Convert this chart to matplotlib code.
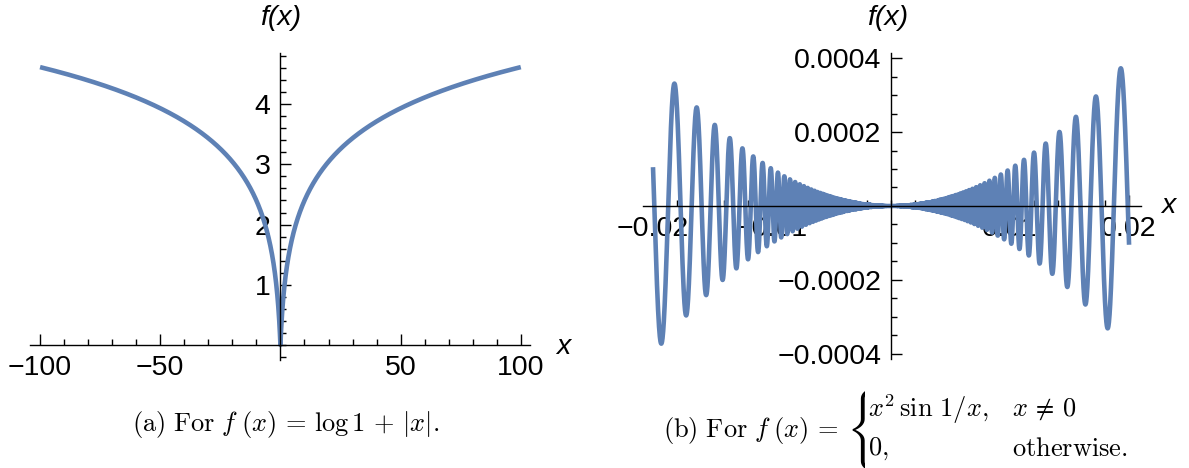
import numpy as np
import matplotlib
matplotlib.use("Agg")
import matplotlib.pyplot as plt
from matplotlib.transforms import Bbox

plt.rcParams['font.family'] = ['Liberation Sans', 'DejaVu Sans']
plt.rcParams['mathtext.fontset'] = 'cm'

blue = '#5e81b5'

# (a) f(x) = log(1 + |x|)
left_range = [-100, 100]
left_xlim = [-104, 104]
left_ylim = [-0.25, 4.85]
left_xticks = [-100, -50, 50, 100]
left_xlabels = ['\u2212100', '\u221250', '50', '100']
left_yticks = [1, 2, 3, 4]
left_ylabels = ['1', '2', '3', '4']

# (b) f(x) = x^2 sin(1/x)
right_range = [-0.02, 0.02]
right_xlim = [-0.0208, 0.021]
right_ylim = [-0.000414, 0.000414]
right_xticks = [-0.02, -0.01, 0.01, 0.02]
right_xlabels = ['\u22120.02', '\u22120.01', '0.01', '0.02']
right_yticks = [-0.0004, -0.0002, 0.0002, 0.0004]
right_ylabels = ['\u22120.0004', '\u22120.0002', '0.0002', '0.0004']

# the two curves are the functions named in the captions
xa = np.linspace(left_range[0], left_range[1], 2001)
ya = np.log(1 + np.abs(xa))
xb = np.linspace(right_range[0], right_range[1], 3001)
with np.errstate(divide='ignore', invalid='ignore'):
    yb = np.where(xb == 0, 0.0, xb**2 * np.sin(1 / xb))

TICK_FS = 20.5
CAP_FS = 19


def mma_axes(ax, xlim, ylim, xt, xl, yt, yl, xminor, yminor):
    ax.set_xlim(xlim)
    ax.set_ylim(ylim)
    for s in ['top', 'right']:
        ax.spines[s].set_visible(False)
    for s in ['left', 'bottom']:
        ax.spines[s].set_position(('data', 0))
        ax.spines[s].set_zorder(4)
        ax.spines[s].set_linewidth(1.0)
    ax.set_xticks(xt)
    ax.set_xticklabels(xl)
    ax.set_yticks(yt)
    ax.set_yticklabels(yl)
    ax.set_xticks(xminor, minor=True)
    ax.set_yticks(yminor, minor=True)
    ax.tick_params(which='both', direction='in', labelsize=TICK_FS, width=1.0)
    ax.tick_params(which='major', length=8, pad=7)
    ax.tick_params(which='minor', length=4.5)
    ax.patch.set_visible(False)


fig = plt.figure(figsize=(11.89, 4.68), dpi=100)

ax1 = fig.add_axes([0.0256, 0.2308, 0.4205, 0.656])
ax1.plot(xa, ya, color=blue, lw=3.3, zorder=3, solid_capstyle='butt')
mma_axes(ax1, left_xlim, left_ylim, left_xticks, left_xlabels,
         left_yticks, left_ylabels,
         np.arange(-100, 101, 10), np.arange(-0.2, 4.85, 0.2))

ax2 = fig.add_axes([0.5412, 0.2329, 0.4184, 0.654])
ax2.plot(xb, yb, color=blue, lw=3.3, zorder=3, solid_capstyle='butt')
mma_axes(ax2, right_xlim, right_ylim, right_xticks, right_xlabels,
         right_yticks, right_ylabels,
         np.arange(-0.02, 0.0201, 0.002), np.arange(-0.0004, 0.00041, 0.00005))

# axis labels
for px, py, s in [(281, 18, 'f(x)'), (563, 347, 'x'), (888, 18, 'f(x)'), (1168, 206, 'x')]:
    fig.text(px / 1189, 1 - py / 468, s, style='italic', fontsize=TICK_FS,
             ha='center', va='center')

# captions
fig.text(286 / 1189, 1 - 425 / 468,
         r'$\mathrm{(a)\ For}\ f\;(x)\,=\,\log 1\,+\,|x|.$',
         fontsize=CAP_FS, ha='center', va='center')
fig.text(663 / 1189, 1 - 430 / 468, r'$\mathrm{(b)\ For}\ f\;(x)\,=$',
         fontsize=CAP_FS, ha='left', va='center')
# big brace: a stacked expression clipped so only the brace is left
brace = fig.text(846 / 1189, 1 - 429 / 468,
                 r'$\left\{\genfrac{}{}{0}{0}{l}{l}\right.$',
                 fontsize=36, ha='left', va='center')
brace.set_clip_box(Bbox.from_extents(838, 0, 865, 468))
brace.set_clip_on(True)
fig.text(868 / 1189, 1 - 409 / 468, r'$x^2\,\sin\,1/x,$', fontsize=CAP_FS, ha='left', va='center')
fig.text(1012 / 1189, 1 - 409 / 468, r'$x\,\neq\,0$', fontsize=CAP_FS, ha='left', va='center')
fig.text(868 / 1189, 1 - 449 / 468, r'$0,$', fontsize=CAP_FS, ha='left', va='center')
fig.text(1012 / 1189, 1 - 449 / 468, r'$\mathrm{otherwise.}$', fontsize=CAP_FS, ha='left', va='center')

fig.savefig('out.png', dpi=100)
